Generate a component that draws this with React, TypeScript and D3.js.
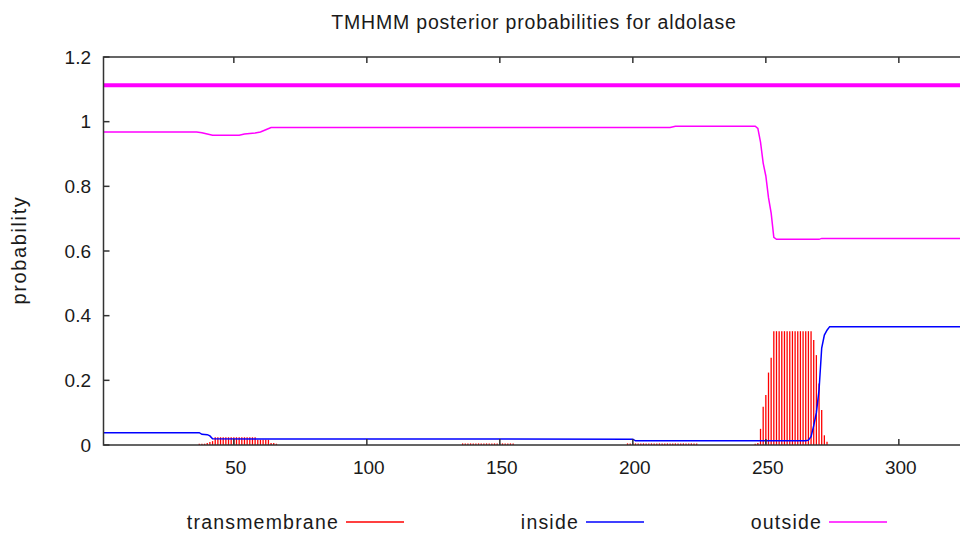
import React from "react";
import * as d3 from "d3";

// Posterior probabilities per residue, TMHMM output for aldolase
const insideResidues = [1, 37, 38, 40, 41, 42, 200, 201, 265, 266, 267, 268, 269, 270, 271, 272, 273, 274, 330];
const insideValues = [0.038, 0.038, 0.033, 0.032, 0.028, 0.019, 0.018, 0.013, 0.013, 0.015, 0.026, 0.06, 0.1, 0.17, 0.3, 0.34, 0.355, 0.366, 0.366];

const outsideResidues = [1, 36, 38, 40, 42, 52, 54, 58, 60, 62, 64, 214, 216, 246, 247, 248, 249, 250, 251, 252, 253, 254, 270, 271, 330];
const outsideValues = [0.968, 0.968, 0.966, 0.962, 0.958, 0.958, 0.962, 0.965, 0.968, 0.975, 0.982, 0.982, 0.986, 0.986, 0.979, 0.937, 0.872, 0.832, 0.765, 0.717, 0.642, 0.636, 0.636, 0.639, 0.639];

// Transmembrane probability, given as runs of consecutive residues
const tmBlockStarts = [37, 136, 198, 246];
const tmBlockValues = [
  [0.004, 0.004, 0.004, 0.006, 0.009, 0.012,
    0.024, 0.024, 0.024, 0.024, 0.024, 0.024, 0.024, 0.024, 0.024, 0.024, 0.024, 0.024, 0.024, 0.024, 0.024, 0.024,
    0.016, 0.016, 0.016, 0.016, 0.016, 0.006, 0.006, 0.004],
  [0.005, 0.005, 0.005, 0.005, 0.005, 0.005, 0.005, 0.005, 0.005, 0.005,
    0.005, 0.005, 0.005, 0.005, 0.005, 0.005, 0.005, 0.005, 0.005, 0.005],
  [0.005, 0.005, 0.005, 0.005, 0.005, 0.005, 0.005, 0.005, 0.005, 0.005,
    0.005, 0.005, 0.005, 0.005, 0.005, 0.005, 0.005, 0.005, 0.005, 0.005,
    0.005, 0.005, 0.005, 0.005, 0.005, 0.005, 0.005],
  [0.004, 0.006, 0.05, 0.118, 0.155, 0.224, 0.27,
    0.352, 0.352, 0.352, 0.352, 0.352, 0.352, 0.352, 0.352, 0.352, 0.352, 0.352, 0.352, 0.352, 0.352, 0.352,
    0.325, 0.278, 0.19, 0.108, 0.03, 0.01],
];

// Predicted topology line (whole sequence outside)
const topologyResidues = [1, 330];
const topologyValue = 1.113;

const xTicks = [50, 100, 150, 200, 250, 300];
const yTicks = [0, 0.2, 0.4, 0.6, 0.8, 1, 1.2];
const yTickLabels = ["0", "0.2", "0.4", "0.6", "0.8", "1", "1.2"];

const legendLabels = ["transmembrane", "inside", "outside"];
const colors = { tm: "#ff0000", inside: "#0000ff", outside: "#ff00ff" };

const W = 960;
const H = 537;
const FONT = "'Liberation Sans', Arial, sans-serif";

export default function App() {
  const left = 103.5;
  const step = 2.66;
  const xMax = 330;
  const x = d3.scaleLinear().domain([1, xMax]).range([left, left + (xMax - 1) * step]);
  const y = d3.scaleLinear().domain([0, 1.2]).range([445, 57]);
  const right = x(xMax);

  const line = d3
    .line<[number, number]>()
    .x((d) => x(d[0]))
    .y((d) => y(d[1]));

  const insidePts = insideResidues.map((r, i) => [r, insideValues[i]] as [number, number]);
  const outsidePts = outsideResidues.map((r, i) => [r, outsideValues[i]] as [number, number]);

  const tmBars: { r: number; v: number }[] = [];
  tmBlockStarts.forEach((s, bi) => {
    tmBlockValues[bi].forEach((v, j) => tmBars.push({ r: s + j, v }));
  });

  const frame = "#333";
  const ink = "#1a1a1a";
  const legendEnds = [339, 579, 822];
  const legendColors = [colors.tm, colors.inside, colors.outside];

  return (
    <svg
      width={W}
      height={H}
      style={{ position: "absolute", left: 0, top: 0, background: "#fff" }}
      fontFamily={FONT}
    >
      <rect x={0} y={0} width={W} height={H} fill="#fff" />
      <text x={534} y={29} textAnchor="middle" fontSize={19.5} letterSpacing={0.8} fill={ink}>
        TMHMM posterior probabilities for aldolase
      </text>

      {/* transmembrane impulses */}
      <g stroke={colors.tm} strokeWidth={1.3}>
        {tmBars.map((b) => (
          <line key={b.r} x1={x(b.r)} x2={x(b.r)} y1={y(0)} y2={y(b.v)} />
        ))}
      </g>

      <path d={line(insidePts) ?? ""} fill="none" stroke={colors.inside} strokeWidth={1.5} />
      <path d={line(outsidePts) ?? ""} fill="none" stroke={colors.outside} strokeWidth={1.5} />
      <line
        x1={x(topologyResidues[0])}
        x2={x(topologyResidues[1])}
        y1={y(topologyValue)}
        y2={y(topologyValue)}
        stroke={colors.outside}
        strokeWidth={4}
      />

      {/* frame */}
      <rect x={left} y={y(1.2)} width={right - left} height={y(0) - y(1.2)} fill="none" stroke={frame} strokeWidth={1.5} />

      {/* y ticks */}
      {yTicks.map((t, i) => (
        <g key={"y" + t}>
          <line x1={left} x2={left + 6} y1={y(t)} y2={y(t)} stroke={frame} strokeWidth={1.5} />
          <line x1={right - 6} x2={right} y1={y(t)} y2={y(t)} stroke={frame} strokeWidth={1.5} />
          <text x={91} y={y(t)} dy="0.35em" textAnchor="end" fontSize={19} fill={ink}>
            {yTickLabels[i]}
          </text>
        </g>
      ))}

      {/* x ticks */}
      {xTicks.map((t) => (
        <g key={"x" + t}>
          <line x1={x(t)} x2={x(t)} y1={y(0)} y2={y(0) - 6} stroke={frame} strokeWidth={1.5} />
          <line x1={x(t)} x2={x(t)} y1={y(1.2)} y2={y(1.2) + 6} stroke={frame} strokeWidth={1.5} />
          <text x={x(t) + 2} y={474} textAnchor="middle" fontSize={19} fill={ink}>
            {t}
          </text>
        </g>
      ))}

      <text
        transform={`translate(26,250) rotate(-90)`}
        textAnchor="middle"
        fontSize={20}
        letterSpacing={1.6}
        fill={ink}
      >
        probability
      </text>

      {/* legend */}
      {legendLabels.map((lab, i) => (
        <g key={lab}>
          <text x={legendEnds[i]} y={529} textAnchor="end" fontSize={19.5} letterSpacing={1.2} fill={ink}>
            {lab}
          </text>
          <line
            x1={legendEnds[i] + 7}
            x2={legendEnds[i] + 65}
            y1={522}
            y2={522}
            stroke={legendColors[i]}
            strokeWidth={1.5}
          />
        </g>
      ))}
    </svg>
  );
}
